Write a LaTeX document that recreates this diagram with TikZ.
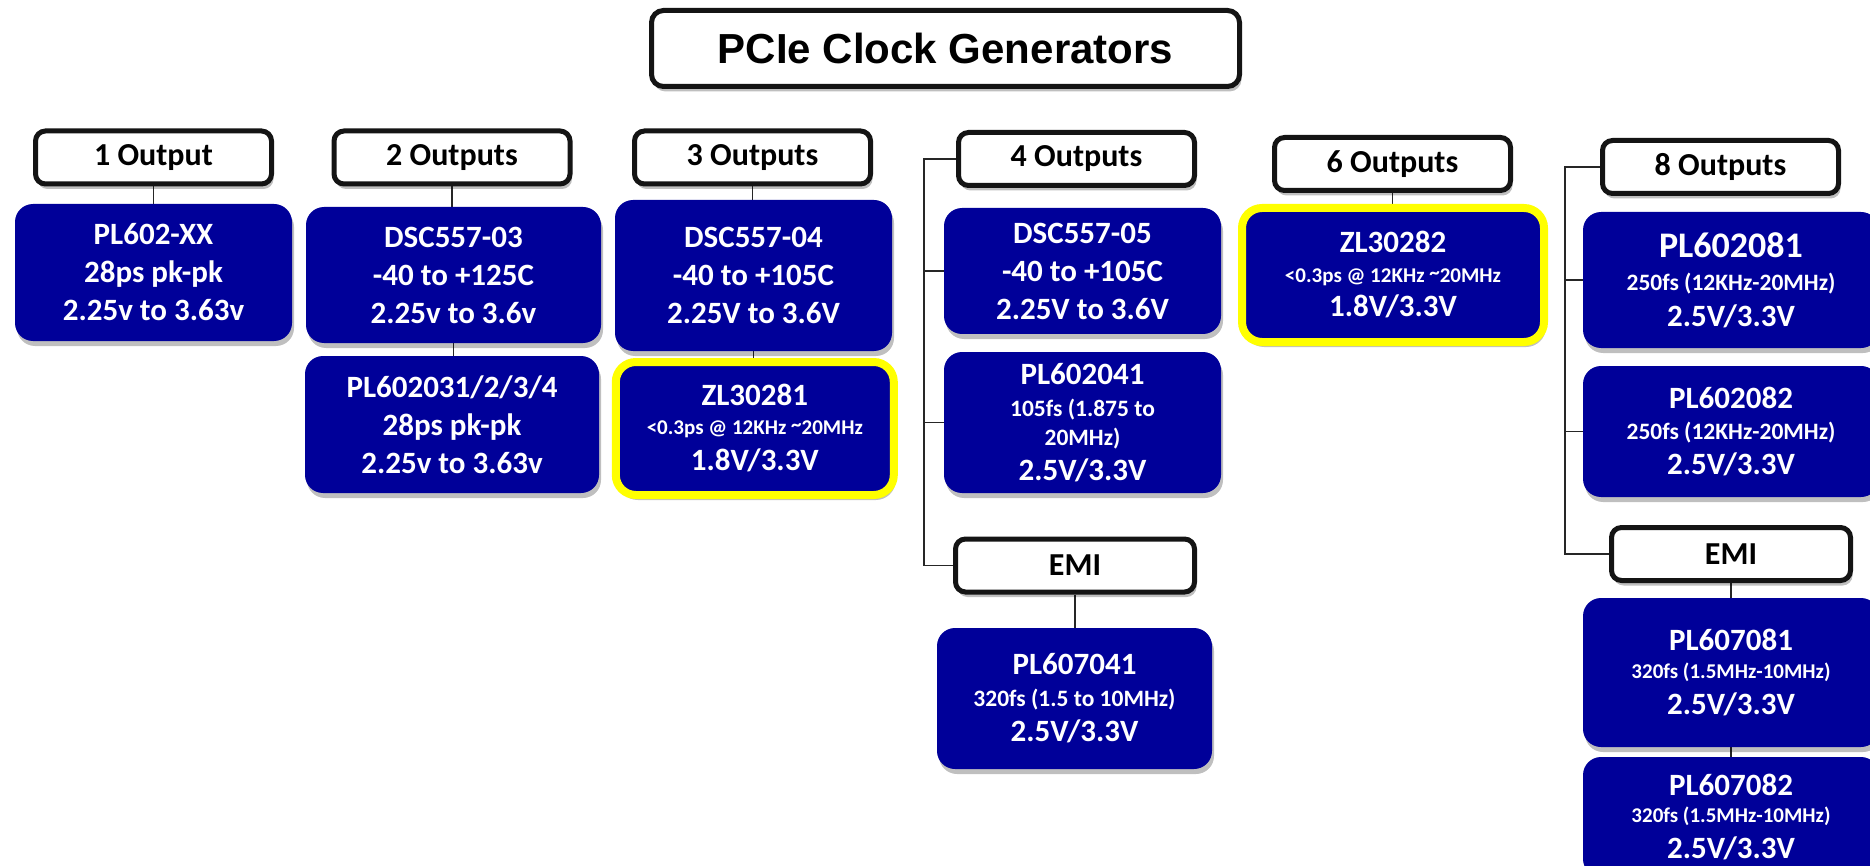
\documentclass[tikz,border=0pt]{standalone}
\usepackage{fontspec}
\setmainfont{Carlito}
\newfontfamily\titlefont{Liberation Sans}
\usetikzlibrary{shadows,backgrounds}
\definecolor{dblue}{RGB}{0,0,153}
\definecolor{hlyellow}{RGB}{255,255,0}
\newcommand\smtxt{\fontsize{21}{25}\selectfont}
\newcommand\midtxt{\fontsize{23.5}{28}\selectfont}
\tikzset{
  shd/.style={drop shadow={shadow xshift=2pt,shadow yshift=-5pt,opacity=0.25,fill=black}},
  hdr/.style={shd, draw=black!92, line width=5pt, fill=white, rounded corners=10pt,
    minimum width=236pt, minimum height=53pt, inner sep=0pt,
    font=\fontsize{32}{36}\selectfont\bfseries},
  chip/.style={shd, fill=dblue, text=white, rounded corners=18pt, inner sep=0pt,
    align=center, font=\fontsize{31}{38}\selectfont\bfseries},
  hl/.style={chip, draw=hlyellow, line width=8pt, rounded corners=20pt},
  link/.style={draw=black!85, line width=1.6pt}
}
\begin{document}
\begin{tikzpicture}[x=1pt,y=-1pt]
\useasboundingbox (0,0) rectangle (1870,866);
\clip (0,0) rectangle (1870,866);

% title
\node[shd, draw=black!92, line width=5pt, fill=white, rounded corners=12pt,
  minimum width=588pt, minimum height=76pt, inner sep=0pt,
  font=\titlefont\fontsize{42}{48}\selectfont\bfseries] (title) at (945.5,48.5) {PCIe Clock Generators};

% headers
\node[hdr] (h1) at (153.5,157.5) {1 Output};
\node[hdr] (h2) at (452,157.5) {2 Outputs};
\node[hdr] (h3) at (752.5,157.5) {3 Outputs};
\node[hdr] (h4) at (1076.5,159) {4 Outputs};
\node[hdr] (h6) at (1392.5,164) {6 Outputs};
\node[hdr] (h8) at (1720.5,167) {8 Outputs};
\node[hdr, minimum width=239pt] (emi4) at (1075,565.5) {EMI};
\node[hdr, minimum width=239pt] (emi8) at (1731,554) {EMI};

% parts
\node[chip, minimum width=277pt, minimum height=137pt] (b1) at (153.5,272.5)
  {PL602-XX\\28ps pk-pk\\2.25v to 3.63v};
\node[chip, minimum width=295pt, minimum height=136pt] (b2a) at (453.5,275)
  {DSC557-03\\-40 to +125C\\2.25v to 3.6v};
\node[chip, minimum width=294pt, minimum height=137pt] (b2b) at (452,424.5)
  {PL602031/2/3/4\\28ps pk-pk\\2.25v to 3.63v};
\node[chip, minimum width=277pt, minimum height=151pt] (b3a) at (753.5,275.5)
  {DSC557-04\\-40 to +105C\\2.25V to 3.6V};
\node[hl, minimum width=278pt, minimum height=133pt] (b3b) at (754.8,428.5)
  {ZL30281\\[-9pt]{\smtxt <0.3ps @ 12KHz \raisebox{3pt}{\textasciitilde}20MHz}\\[-2pt]1.8V/3.3V};
\node[chip, minimum width=277pt, minimum height=126pt] (b4a) at (1082.5,271)
  {DSC557-05\\-40 to +105C\\2.25V to 3.6V};
\node[chip, minimum width=277pt, minimum height=141pt] (b4b) at (1082.5,422.5)
  {PL602041\\[-6pt]{\midtxt 105fs (1.875 to}\\[-9pt]{\midtxt 20MHz)}\\[-3pt]2.5V/3.3V};
\node[chip, minimum width=275pt, minimum height=141pt] (b4c) at (1074.5,698.5)
  {PL607041\\[-6pt]{\midtxt 320fs (1.5 to 10MHz)}\\[-3pt]2.5V/3.3V};
\node[hl, minimum width=302pt, minimum height=134pt] (b6) at (1393,275)
  {ZL30282\\[-8pt]{\smtxt <0.3ps @ 12KHz \raisebox{3pt}{\textasciitilde}20MHz}\\[-4pt]1.8V/3.3V};
\node[chip, minimum width=296pt, minimum height=136pt] (b8a) at (1731,280)
  {{\fontsize{36}{38}\selectfont PL602081}\\[-5pt]{\midtxt 250fs (12KHz-20MHz)}\\[-2pt]2.5V/3.3V};
\node[chip, minimum width=296pt, minimum height=131pt] (b8b) at (1731,431.5)
  {PL602082\\[-7pt]{\midtxt 250fs (12KHz-20MHz)}\\[-3pt]2.5V/3.3V};
\node[chip, minimum width=296pt, minimum height=149pt] (b8c) at (1731,672.5)
  {PL607081\\[-10pt]{\smtxt 320fs (1.5MHz-10MHz)}\\[-2pt]2.5V/3.3V};
\node[chip, minimum width=296pt, minimum height=120pt] (b8d) at (1731,817)
  {PL607082\\[-11pt]{\smtxt 320fs (1.5MHz-10MHz)}\\[-2pt]2.5V/3.3V};

\coordinate (bus4) at (924,400);
\coordinate (bus8) at (1565,400);

\begin{pgfonlayer}{background}
\fill[white] (0,0) rectangle (1870,866);
\draw[link] (h1.south) -- (h1.south |- b1.north);
\draw[link] (h2.south) -- (h2.south |- b2a.north);
\draw[link] (b2a.south) -- (b2a.south |- b2b.north);
\draw[link] (h3.south) -- (h3.south |- b3a.north);
\draw[link] (b3a.south) -- (b3a.south |- b3b.north);
\draw[link] (h4.west) -| (bus4) |- (emi4.west);
\draw[link] (b4a.west) -- (b4a.west -| bus4);
\draw[link] (b4b.west) -- (b4b.west -| bus4);
\draw[link] (emi4.south) -- (emi4.south |- b4c.north);
\draw[link] (h6.south) -- (h6.south |- b6.north);
\draw[link] (h8.west) -| (bus8) |- (emi8.west);
\draw[link] (b8a.west) -- (b8a.west -| bus8);
\draw[link] (b8b.west) -- (b8b.west -| bus8);
\draw[link] (emi8.south) -- (emi8.south |- b8c.north);
\draw[link] (b8c.south) -- (b8c.south |- b8d.north);
\end{pgfonlayer}
\end{tikzpicture}
\end{document}
